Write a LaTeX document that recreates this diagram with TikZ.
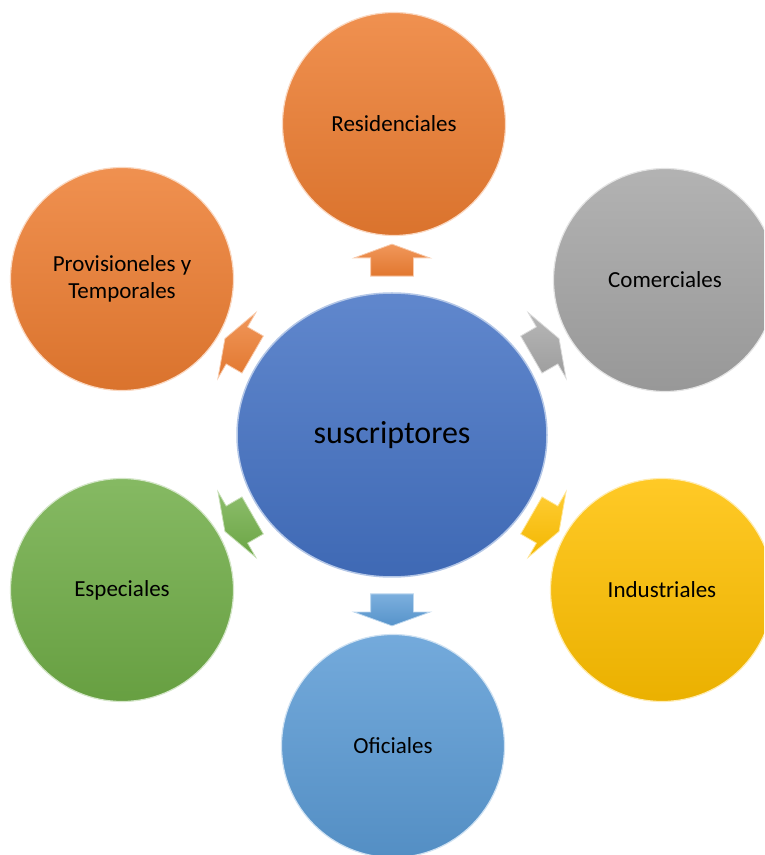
\documentclass[tikz,border=0pt]{standalone}
\usepackage{fontspec}
\setmainfont{Carlito}
\usetikzlibrary{shapes.geometric,shapes.arrows}
\definecolor{orangeA}{HTML}{ED7D31}
\definecolor{grayA}{HTML}{A5A5A5}
\definecolor{goldA}{HTML}{FFC000}
\definecolor{blueA}{HTML}{5B9BD5}
\definecolor{greenA}{HTML}{70AD47}
\definecolor{blueB}{HTML}{4472C4}
\tikzset{
  bubble/.style={circle,minimum size=223pt,inner sep=0pt,align=center,
    font=\fontsize{23}{27}\selectfont,draw=white!70!#1,line width=1.2pt,
    top color=#1!85!white,bottom color=#1!92!black},
  hub/.style={ellipse,minimum width=310pt,minimum height=284pt,inner sep=0pt,
    font=\fontsize{32}{38}\selectfont,draw=white!60!blueB,line width=1.5pt,
    top color=blueB!85!white,bottom color=blueB!92!black},
  blockarrow/.style={single arrow,minimum height=32pt,inner xsep=0pt,
    inner ysep=21pt,single arrow head extend=16.5pt,single arrow tip angle=140,
    draw=white!60!#1,line width=0.8pt,
    top color=#1!80!white,bottom color=#1!95!black}
}
\begin{document}
\begin{tikzpicture}[x=1pt,y=1pt]
\useasboundingbox (0,0) rectangle (764,855);
\clip (0,0) rectangle (764,855);
\node[hub] (sus) at (392,420) {suscriptores};
\node[bubble=orangeA] (res) at (394,731) {Residenciales};
\node[bubble=grayA] (com) at (665,575) {Comerciales};
\node[bubble=goldA] (ind) at (662,265) {Industriales};
\node[bubble=blueA] (ofi) at (393,109) {Oficiales};
\node[bubble=greenA] (esp) at (122,265) {Especiales};
\node[bubble=orangeA] (pro) at (122,576) {Provisioneles y\\Temporales};
\node[blockarrow=orangeA,rotate=90] (ares) at ([shift={(90:171)}]sus.center) {};
\node[blockarrow=grayA,rotate=30] (acom) at ([shift={(30:173)}]sus.center) {};
\node[blockarrow=goldA,rotate=-30] (aind) at ([shift={(-30:173)}]sus.center) {};
\node[blockarrow=blueA,rotate=-90] (aofi) at ([shift={(-90:171)}]sus.center) {};
\node[blockarrow=greenA,rotate=210] (aesp) at ([shift={(210:173)}]sus.center) {};
\node[blockarrow=orangeA,rotate=150] (apro) at ([shift={(150:173)}]sus.center) {};
\end{tikzpicture}
\end{document}
